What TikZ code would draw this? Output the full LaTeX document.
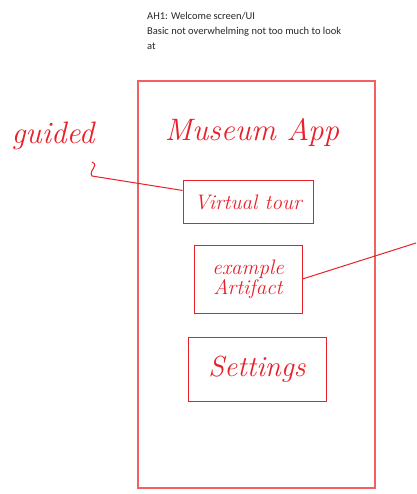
\documentclass[tikz,border=0pt]{standalone}
\usepackage{fontspec}
\newfontfamily\notefont{Carlito}
\usepackage{tikz}
\usetikzlibrary{positioning}
\definecolor{inkred}{RGB}{232,32,42}
\definecolor{framered}{RGB}{242,96,100}
\definecolor{notegray}{RGB}{40,40,40}
\tikzset{
  ink/.style={draw=inkred, line width=1pt},
  sketchbox/.style={ink, rectangle, text=inkred, font=\itshape\fontsize{21}{20}\selectfont, align=center, inner sep=2pt},
  scribble/.style={text=inkred, font=\itshape\fontsize{31}{31}\selectfont},
}

\begin{document}
\begin{tikzpicture}[x=1pt, y=-1pt]
        \useasboundingbox[fill=white] (0,0) rectangle (416,494);

        % NODES
        % -----------------

        \node[anchor=north west, align=left, text=notegray, font=\notefont\fontsize{10.5}{15}\selectfont, inner sep=0pt] (note) at (147,12) {AH1: Welcome screen/UI\\Basic not overwhelming not too much to look\\at};
        \node[draw=framered, line width=1.4pt, minimum width=237pt, minimum height=407pt, inner sep=0pt] (phone) at (256.5,284.5) {};
        \node[scribble] (appname) at (252,132) {Museum App};
        \node[scribble] (guided) at (53,136) {guided};

        \node[sketchbox, minimum width=130pt, minimum height=42pt, inner sep=0pt] (tourbox) at (248,202) {Virtual tour};
        \node[sketchbox, minimum width=108pt, minimum height=68pt, inner sep=0pt, below=21pt of tourbox] (artifactbox) {example\\Artifact};
        \node[sketchbox, minimum width=138pt, minimum height=64pt, below=23pt of artifactbox, xshift=9pt, font=\itshape\fontsize{29}{29}\selectfont] (settingsbox) {Settings};

        \coordinate (hook) at (92,162);
        \coordinate (offright) at (416,243);

        % EDGES
        % -----------------
        \draw[ink] (hook) .. controls (100,166) and (88,170) .. (92,176) -- (tourbox.170);
        \draw[ink] (artifactbox.east) -- (offright);

\end{tikzpicture}
\end{document}
